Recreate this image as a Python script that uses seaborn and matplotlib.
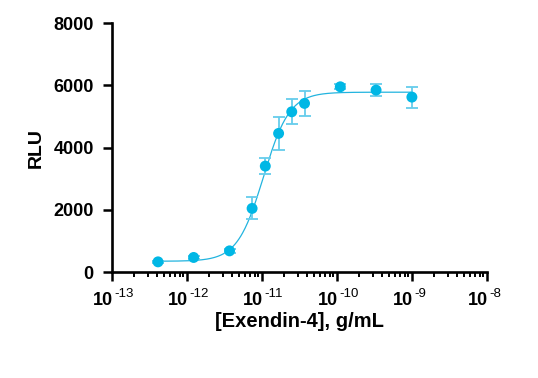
import numpy as np
import pandas as pd
import matplotlib
matplotlib.use("Agg")
import matplotlib.pyplot as plt
import seaborn as sns
from matplotlib.ticker import LogLocator, FixedLocator, NullFormatter

# ---- data ----
conc = [4.12e-13, 1.23e-12, 3.7e-12, 7.4e-12, 1.11e-11, 1.67e-11,
        2.5e-11, 3.7e-11, 1.11e-10, 3.33e-10, 1.0e-9]
rlu = [331, 472, 684, 2047, 3406, 4456, 5150, 5420, 5953, 5847, 5622]
rlu_err = [40, 50, 60, 353, 267, 524, 400, 407, 80, 183, 337]

# 4-parameter logistic fit parameters (estimated from the drawn curve)
fit_bottom = 350
fit_top = 5780
fit_ec50 = 1.05e-11
fit_hill = 2.5

x_ticks = [1e-13, 1e-12, 1e-11, 1e-10, 1e-9, 1e-8]
x_tick_exps = ["-13", "-12", "-11", "-10", "-9", "-8"]
y_ticks = [0, 2000, 4000, 6000, 8000]

x_title = "[Exendin-4], g/mL"
y_title = "RLU"

# ---- styling ----
sns.set_style("ticks")
plt.rcParams['font.family'] = ['Liberation Sans', 'DejaVu Sans']
plt.rcParams['text.color'] = 'black'
plt.rcParams['axes.labelcolor'] = 'black'
plt.rcParams['xtick.color'] = 'black'
plt.rcParams['ytick.color'] = 'black'

point_color = "#00B7E5"
err_color = "#66CDEC"
line_color = "#22B4DF"

df = pd.DataFrame({"conc": conc, "rlu": rlu, "err": rlu_err})

xs = np.logspace(np.log10(conc[0]), np.log10(conc[-1]), 400)
curve = fit_bottom + (fit_top - fit_bottom) / (1 + (fit_ec50 / xs) ** fit_hill)
curve_df = pd.DataFrame({"conc": xs, "rlu": curve})

fig = plt.figure(figsize=(5.38, 3.78), dpi=100)
ax = fig.add_axes([0.208, 0.280, 0.697, 0.659])

sns.lineplot(data=curve_df, x="conc", y="rlu", ax=ax, color=line_color, linewidth=0.9, zorder=2)
ax.errorbar(df["conc"], df["rlu"], yerr=df["err"], fmt="none", ecolor=err_color,
            elinewidth=1.3, capsize=4.3, capthick=1.3, zorder=3)
sns.scatterplot(data=df, x="conc", y="rlu", ax=ax, color=point_color, s=62,
                edgecolor="none", zorder=4)

ax.set_xscale("log")
ax.set_xlim(1e-13, 1e-8)
ax.set_ylim(0, 8000)

ax.xaxis.set_major_locator(FixedLocator(x_ticks))
ax.set_xticklabels([""] * len(x_ticks))
ax.xaxis.set_minor_locator(LogLocator(base=10, subs=np.arange(2, 10), numticks=20))
ax.xaxis.set_minor_formatter(NullFormatter())
ax.set_yticks(y_ticks)
ax.set_yticklabels([str(v) for v in y_ticks])

# x tick labels: bold "10" with a regular-weight hyphen exponent
trans = ax.get_xaxis_transform()
for xv, ex in zip(x_ticks, x_tick_exps):
    ax.annotate("10", xy=(xv, 0), xycoords=trans, xytext=(0.5, -20.5), textcoords="offset points",
                ha="right", va="center", fontsize=13, fontweight="bold", color="black",
                annotation_clip=False)
    ax.annotate(ex, xy=(xv, 0), xycoords=trans, xytext=(1.5, -15.5), textcoords="offset points",
                ha="left", va="center", fontsize=9.5, color="black", annotation_clip=False)

for lab in ax.get_yticklabels():
    lab.set_fontweight("bold")
    lab.set_fontsize(13)

ax.tick_params(axis="both", which="major", length=6.5, width=1.8, color="black")
ax.tick_params(axis="y", which="major", pad=6.5)
ax.tick_params(axis="x", which="minor", length=3.5, width=1.4, color="black")

for side in ["left", "bottom"]:
    ax.spines[side].set_linewidth(1.9)
    ax.spines[side].set_color("black")
sns.despine(ax=ax)

ax.set_xlabel(x_title, fontsize=14.5, fontweight="bold", labelpad=19)
ax.set_ylabel(y_title, fontsize=14, fontweight="bold", labelpad=6)

fig.savefig("out.png", dpi=100)
